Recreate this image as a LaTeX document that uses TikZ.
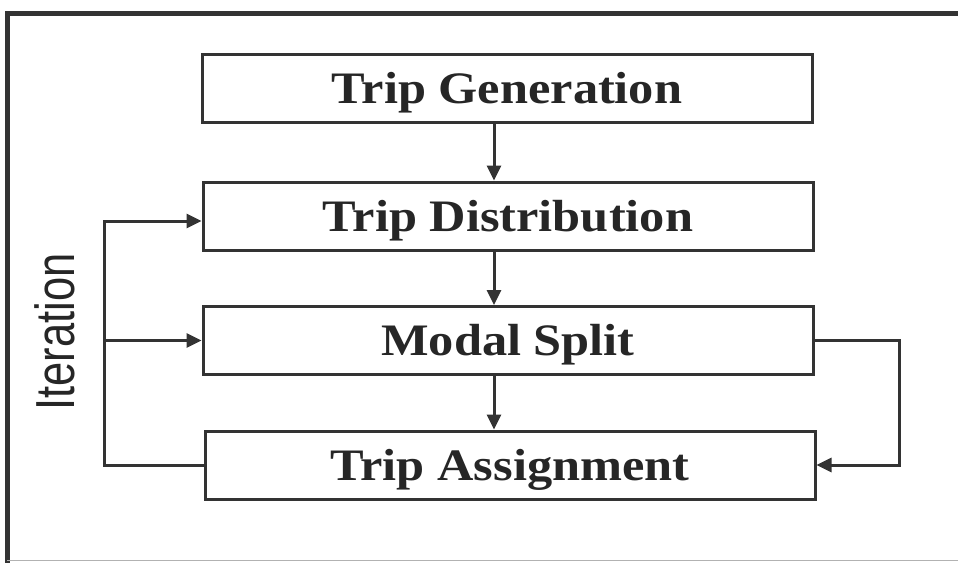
\documentclass[tikz,border=0pt]{standalone}
\usepackage{fontspec}
\usetikzlibrary{arrows.meta}
\newfontfamily\boxfont[FakeStretch=1.12]{Liberation Serif}
\newfontfamily\iterfont[FakeStretch=0.79]{Liberation Sans}
\definecolor{ink}{gray}{0.2}
\definecolor{textink}{gray}{0.15}
\begin{document}
\begin{tikzpicture}[x=1pt,y=-1pt,
  stagebox/.style={draw=ink,line width=3pt,inner sep=0pt,minimum width=610pt,minimum height=68pt,
    text height=30pt,text depth=0pt,
    text=textink,font=\boxfont\bfseries\fontsize{45}{45}\selectfont},
  flow/.style={draw=ink,line width=3pt,-{Triangle[length=15pt,width=14pt]}},
  link/.style={draw=ink,line width=3pt}]
\useasboundingbox (0,0) rectangle (958,562);
\fill[white] (0,0) rectangle (958,562);
% outer frame
\draw[ink,line width=5pt] (965,13.5) -- (7,13.5) -- (7,565);
\draw[gray!60,line width=1.5pt] (7,560.5) -- (958,560.5);

% the four stages
\node[stagebox] (b1) at (507,88.5) {Trip Generation};
\node[stagebox] (b2) at (508,216) {Trip Distribution};
\node[stagebox] (b3) at (508,340.5) {Modal Split};
\node[stagebox] (b4) at (510,465) {Trip Assignment};

% side label
\node[rotate=90,inner sep=0pt,text=textink,font=\iterfont\fontsize{55}{55}\selectfont] (it) at (55,332) {Iteration};

% guide coordinates for the connectors
\coordinate (ax) at (494,0);
\coordinate (lx) at (104,0);
\coordinate (rx) at (899,0);

% downward flow
\draw[flow] (b1.south -| ax) -- (b2.north -| ax);
\draw[flow] (b2.south -| ax) -- (b3.north -| ax);
\draw[flow] (b3.south -| ax) -- (b4.north -| ax);

% feedback loop on the left
\draw[flow] (b4.west) -- (lx |- b4.west) |- ([yshift=-5pt]b2.west);
\draw[flow] (lx |- b3.west) -- (b3.west);

% bypass on the right
\draw[flow] (b3.east) -- (rx |- b3.east) |- (b4.east);
\end{tikzpicture}
\end{document}
